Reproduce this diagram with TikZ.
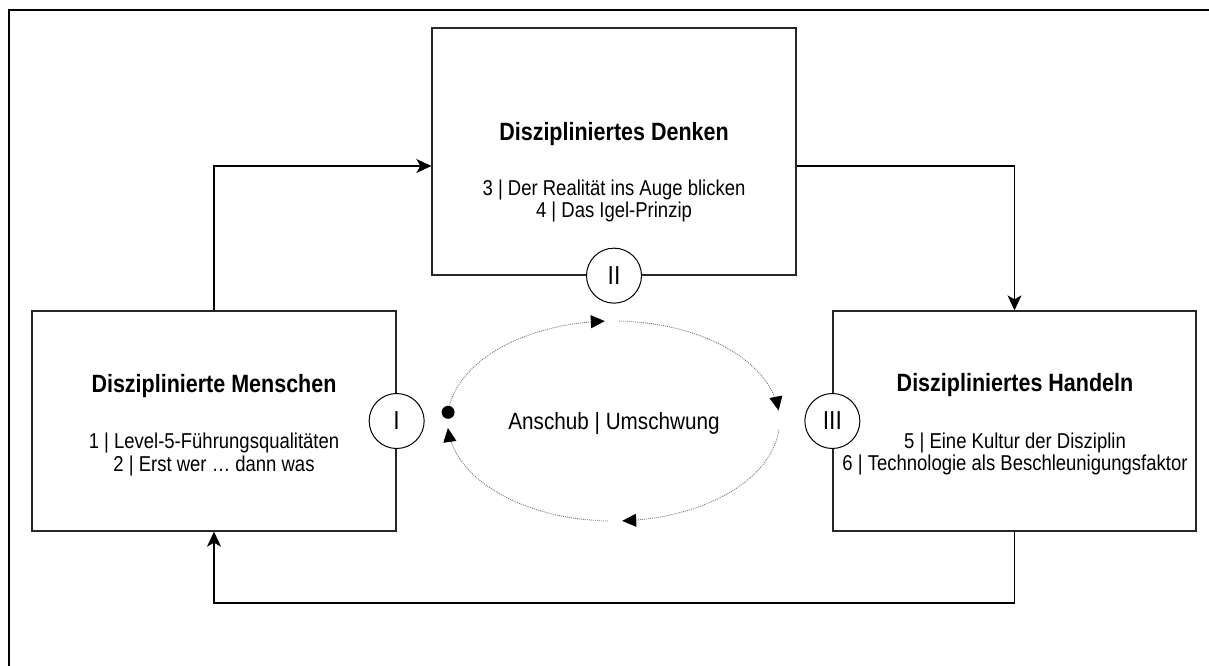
\documentclass[tikz,border=0pt]{standalone}
\usepackage{fontspec}
\setmainfont{Liberation Sans}[FakeStretch=0.88]
\usetikzlibrary{arrows.meta}
\begin{document}
\begin{tikzpicture}[x=1pt,y=-1pt,
  box/.style={draw=black!85, line width=1.3pt, inner sep=0pt, fill=white},
  numcircle/.style={circle, draw, line width=1pt, fill=white, minimum size=55pt, inner sep=0pt, font=\fontsize{26}{26}\selectfont},
  title/.style={anchor=base, inner sep=0pt, font=\bfseries\fontsize{25}{28}\selectfont\addfontfeature{FakeStretch=0.86}},
  item/.style={anchor=base, inner sep=0pt, font=\fontsize{21.5}{23}\selectfont\addfontfeature{FakeStretch=0.86}},
  conn/.style={line width=1.3pt, -{Stealth[length=15pt,width=14pt,inset=4pt]}},
  turn/.style={draw=black!55, line width=0.9pt, dash pattern=on 0.9pt off 1.1pt, -{Triangle[length=14pt,width=13pt,black]}},
]
\useasboundingbox (0,0) rectangle (1209,666);

% outer frame (top and left edge)
\draw[line width=2pt] (1209,10) -- (9,10) -- (9,666);

% the three boxes
\node[box, minimum width=364pt, minimum height=220pt] (L) at (214,421) {};
\node[box, minimum width=364pt, minimum height=247pt] (T) at (614,151.5) {};
\node[box, minimum width=363pt, minimum height=220pt] (R) at (1014.5,421) {};

% box texts
\node[title] (Lt) at (214,392) {Disziplinierte Menschen};
\node[item]  (L1) at (214,448) {1 | Level-5-Führungsqualitäten};
\node[item]  (L2) at (214,471) {2 | Erst wer … dann was};

\node[title] (Tt) at (614,140) {Diszipliniertes Denken};
\node[item]  (T1) at (614,195) {3 | Der Realität ins Auge blicken};
\node[item]  (T2) at (614,217) {4 | Das Igel-Prinzip};

\node[title] (Rt) at (1015,391) {Diszipliniertes Handeln};
\node[item]  (R1) at (1015,448) {5 | Eine Kultur der Disziplin};
\node[item]  (R2) at (1015,470) {6 | Technologie als Beschleunigungsfaktor};

% connectors between the boxes
\draw[conn] (L.north) |- (T.west |- 0,166);
\draw[conn] (T.east |- 0,166) -| (R.north);
\coordinate (bot) at (0,603);
\draw[conn] (R.south) -- (R.south |- bot) -| (L.south);

% numbered circles on the box edges
\node[numcircle] (c1) at (L.east) {I};
\node[numcircle] (c2) at (T.south) {II};
\node[numcircle] (c3) at (R.west) {III};

% inner cycle
\node[item, anchor=center, font=\fontsize{23.5}{26}\selectfont] (mid) at (614,423) {Anschub | Umschwung};
\draw[turn] plot[domain=175:93, samples=60] ({613.5+166*cos(\x)},{421-100*sin(\x)});
\draw[turn] plot[domain=88:6, samples=60] ({613.5+166*cos(\x)},{421-100*sin(\x)});
\draw[turn] plot[domain=-5:-87, samples=60] ({613.5+166*cos(\x)},{421-100*sin(\x)});
\draw[turn] plot[domain=-92:-176, samples=60] ({613.5+166*cos(\x)},{421-100*sin(\x)});
\node[circle, fill=black, minimum size=13pt, inner sep=0pt] (start) at ({613.5+166*cos(175)},{421-100*sin(175)}) {};
\end{tikzpicture}
\end{document}
